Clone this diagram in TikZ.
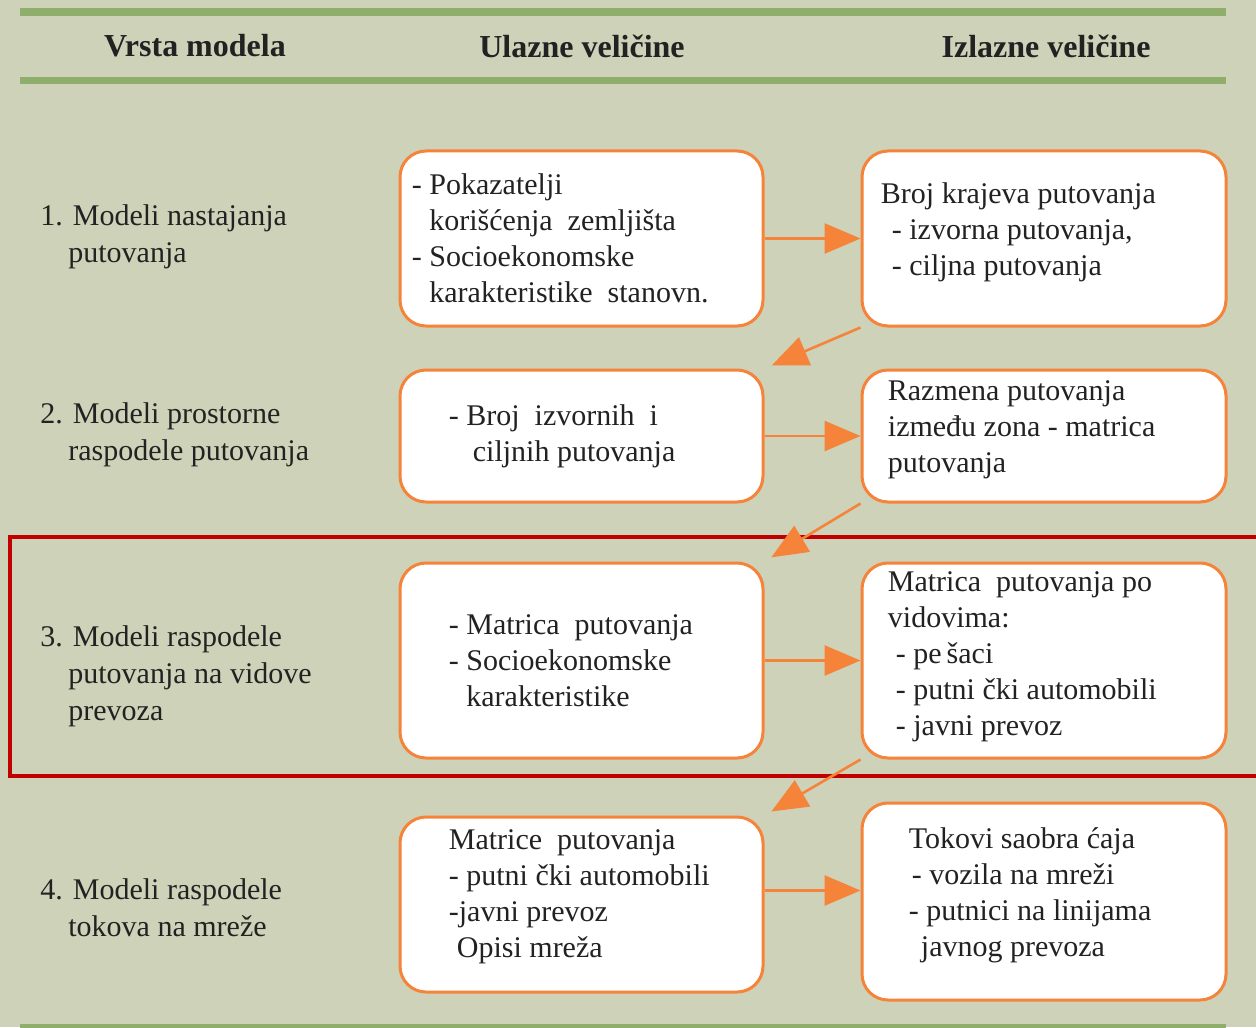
\documentclass[tikz,border=0pt]{standalone}
\usepackage{fontspec}
\setmainfont{Liberation Serif}
\usetikzlibrary{positioning,arrows.meta}
\definecolor{bgsage}{RGB}{206,210,184}
\definecolor{bargreen}{RGB}{143,174,108}
\definecolor{boxorange}{RGB}{245,132,58}
\definecolor{frameRed}{RGB}{192,0,0}
\definecolor{inkgray}{RGB}{34,34,34}
\newcommand{\ind}{\phantom{- }}
\newcommand{\labind}{\hspace*{14pt}}
\begin{document}
\begin{tikzpicture}[x=0.5pt, y=-0.5pt,
		box/.style={draw=boxorange, line width=1.5pt, fill=white, rounded corners=13pt, minimum width=181.5pt, inner sep=0pt},
		txt/.style={align=left, inner sep=0pt, text=inkgray, font=\fontsize{15pt}{18pt}\selectfont},
		lab/.style={align=left, inner sep=0pt, anchor=west, text=inkgray, font=\fontsize{15pt}{18.5pt}\selectfont},
		head/.style={inner sep=0pt, text=inkgray, font=\fontsize{16pt}{18pt}\selectfont\bfseries},
		bar/.style={fill=bargreen},
		arr/.style={draw=boxorange, line width=1.3pt, -{Triangle[length=18pt,width=15pt]}}]
	\fill[bgsage] (0,0) rectangle (1256,1027);
	\useasboundingbox (0,0) rectangle (1256,1027);
	% header
	\fill[bar] (20,8) rectangle (1226,16);
	\fill[bar] (20,77) rectangle (1226,84);
	\fill[bar] (20,1024) rectangle (1226,1032);
	\node[head] (h1) at (195,46) {Vrsta modela};
	\node[head] (h2) at (582,46) {Ulazne veličine};
	\node[head] (h3) at (1046,46) {Izlazne veličine};
	% model types
	\node[lab] (lab1) at (40,237) {1. Modeli nastajanja\\\labind putovanja};
	\node[lab] (lab2) at (40,435) {2. Modeli prostorne\\\labind raspodele putovanja};
	\node[lab] (lab3) at (40,676) {3. Modeli raspodele\\\labind putovanja na vidove\\\labind prevoza};
	\node[lab] (lab4) at (40,908) {4. Modeli raspodele\\\labind tokova na mreže};
	% highlighted row
	\draw[frameRed, line width=2pt] (10,537) rectangle (1270,776);
	% inputs
	\node[box, minimum height=87.5pt] (in1) at (581.5,238.5) {};
	\node[txt, right=6.5pt of in1.west] (in1t) {- Pokazatelji\\\ind korišćenja\ \ zemljišta\\- Socioekonomske\\\ind karakteristike\ \ stanovn.};
	\node[box, minimum height=66pt] (in2) at (581.5,436) {};
	\node[txt, right=25pt of in2.west] (in2t) {- Broj\ \ izvornih\ \ i\\\hspace*{12pt}ciljnih putovanja};
	\node[box, minimum height=97.5pt] (in3) at (581.5,660.5) {};
	\node[txt, right=25pt of in3.west] (in3t) {- Matrica\ \ putovanja\\- Socioekonomske\\\ind karakteristike};
	\node[box, minimum height=87.5pt] (in4) at (581.5,904.5) {};
	\node[txt, right=25pt of in4.west, yshift=4pt] (in4t) {Matrice\ \ putovanja\\- putni čki automobili\\-javni prevoz\\\hspace*{4pt}Opisi mreža};
	% outputs
	\node[box, minimum width=182pt, minimum height=87.5pt] (out1) at (1044,238.5) {};
	\node[txt, right=10pt of out1.west, yshift=3pt] (out1t) {Broj krajeva putovanja\\\hspace*{5.5pt}- izvorna putovanja,\\\hspace*{5.5pt}- ciljna putovanja};
	\node[box, minimum width=182pt, minimum height=66pt] (out2) at (1044,436) {};
	\node[txt, right=13.5pt of out2.west, yshift=3pt] (out2t) {Razmena putovanja\\između zona - matrica\\putovanja};
	\node[box, minimum width=182pt, minimum height=97.5pt] (out3) at (1044,660.5) {};
	\node[txt, right=13.5pt of out3.west, yshift=2pt] (out3t) {Matrica\ \ putovanja po\\vidovima:\\\hspace*{4pt}- pe\,šaci\\\hspace*{4pt}- putni čki automobili\\\hspace*{4pt}- javni prevoz};
	\node[box, minimum width=182pt, minimum height=98.5pt] (out4) at (1044,901.5) {};
	\node[txt, right=24pt of out4.west, yshift=3pt] (out4t) {Tokovi saobra ćaja\\\hspace*{1.5pt}- vozila na mreži\\- putnici na linijama\\\hspace*{6pt}javnog prevoza};
	% flow
	\draw[arr] (in1.east) -- (out1.west);
	\draw[arr] (in2.east) -- (out2.west);
	\draw[arr] (in3.east) -- (out3.west);
	\draw[arr] ([yshift=7pt]in4.east) -- ([yshift=7pt]in4.east -| out4.west);
	\draw[arr, shorten >=4pt] (out1.south west) -- (in2.north east);
	\draw[arr, shorten >=4pt] (out2.south west) -- (in3.north east);
	\draw[arr, shorten >=4pt] (out3.south west) -- (in4.north east);
\end{tikzpicture}
\end{document}
